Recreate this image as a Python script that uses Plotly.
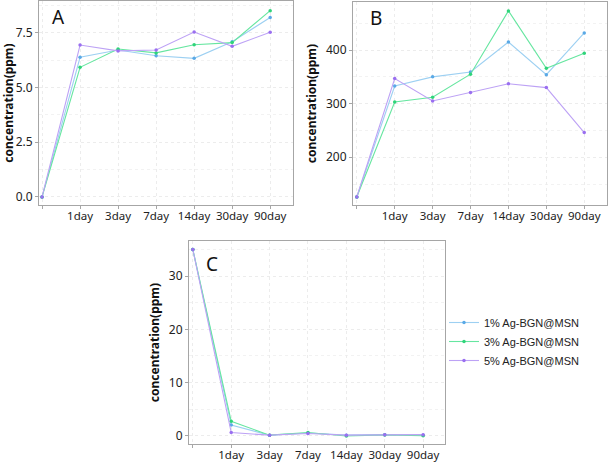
import plotly.graph_objects as go

W, H = 609, 462

categories = ["", "1day", "3day", "7day", "14day", "30day", "90day"]
series_names = ["1% Ag-BGN@MSN", "3% Ag-BGN@MSN", "5% Ag-BGN@MSN"]

A_1 = [0, 6.38, 6.71, 6.45, 6.33, 7.09, 8.2]
A_3 = [0, 5.92, 6.76, 6.58, 6.95, 7.05, 8.51]
A_5 = [0, 6.94, 6.67, 6.71, 7.53, 6.88, 7.52]

B_1 = [126, 333, 350, 359, 415, 354, 432]
B_3 = [126, 303, 312, 355, 473, 366, 394]
B_5 = [126, 347, 305, 321, 337, 330, 246]

C_1 = [35.0, 2.0, 0.1, 0.5, 0.1, 0.2, 0.1]
C_3 = [35.0, 2.7, 0.1, 0.6, -0.05, 0.15, 0.0]
C_5 = [35.0, 0.6, 0.1, 0.4, 0.1, 0.2, 0.2]

colors = ["#9dd0f2", "#66e6a0", "#bda2f5"]
marker_colors = ["#5aa9e6", "#2fd47a", "#9a6ff0"]

panels = [
    dict(data=[A_1, A_3, A_5], px=(39, 293), py=(1, 205), xr=(-0.08, 6.6), yr=(-0.37, 8.95),
         dtick=2.5, fmt=".1f", label="A", lab=(58, 17)),
    dict(data=[B_1, B_3, B_5], px=(353, 607), py=(2, 205), xr=(-0.1, 6.6), yr=(111, 489.6),
         dtick=100, fmt="d", label="B", lab=(376, 18)),
    dict(data=[C_1, C_3, C_5], px=(189, 445), py=(241, 444), xr=(-0.1, 6.57), yr=(-1.56, 36.6),
         dtick=10, fmt="d", label="C", lab=(212, 264)),
]

fig = go.Figure()
xs = list(range(len(categories)))
font_fam = "Noto Sans, Open Sans, sans-serif"

for i, p in enumerate(panels):
    suffix = "" if i == 0 else str(i + 1)
    for j, vals in enumerate(p["data"]):
        fig.add_trace(go.Scatter(
            x=xs, y=vals, mode="lines+markers", name=series_names[j],
            line=dict(color=colors[j], width=1.1),
            marker=dict(color=marker_colors[j], size=3.5),
            xaxis="x" + suffix, yaxis="y" + suffix,
            showlegend=(i == 0),
        ))
    axis_common = dict(showline=True, mirror=True, linecolor="#a6a6a6", linewidth=1,
                       ticks="outside", ticklen=3, tickcolor="#a6a6a6",
                       showgrid=True, gridcolor="#ececec", griddash="dot", gridwidth=1,
                       zeroline=False, automargin=False)
    fig.update_layout(**{
        "xaxis" + suffix: dict(
            domain=[p["px"][0] / W, p["px"][1] / W],
            anchor="y" + suffix, range=list(p["xr"]),
            tickmode="array", tickvals=xs, ticktext=categories,
            ticklabelstandoff=-3,
            tickfont=dict(family=font_fam, size=11.5, color="#222"),
            **axis_common),
        "yaxis" + suffix: dict(
            domain=[1 - p["py"][1] / H, 1 - p["py"][0] / H],
            anchor="x" + suffix, range=list(p["yr"]), dtick=p["dtick"], tick0=0,
            tickformat=p["fmt"],
            tickfont=dict(family=font_fam, size=12, color="#222"),
            minor=dict(dtick=p["dtick"] / 2, showgrid=True, gridcolor="#f2f2f2", griddash="dot"),
            title=dict(text="<b>concentration(ppm)</b>", font=dict(family=font_fam, size=12, color="#111"),
                       standoff=6),
            **axis_common),
    })
    fig.add_annotation(x=p["lab"][0] / W, y=1 - p["lab"][1] / H, xref="paper", yref="paper",
                       text=p["label"], showarrow=False,
                       font=dict(family=font_fam, size=19, color="#111"),
                       xanchor="center", yanchor="middle")

fig.update_layout(
    width=W, height=H, margin=dict(l=0, r=0, t=0, b=0),
    paper_bgcolor="white", plot_bgcolor="white",
    legend=dict(x=444 / W, y=1 - 308 / H, xanchor="left", yanchor="top",
                font=dict(family="Liberation Sans, Arial, sans-serif", size=11, color="#222"),
                bgcolor="rgba(0,0,0,0)", itemwidth=30, tracegroupgap=0),
)

fig.write_html("out.html", config={"displayModeBar": False},
               post_script="document.body.style.margin='0px';document.body.style.overflow='hidden';")
